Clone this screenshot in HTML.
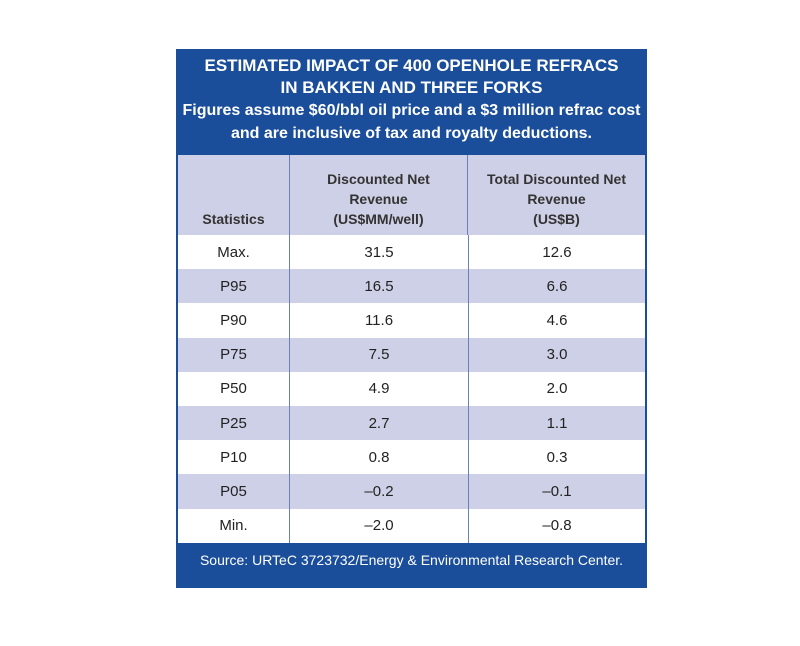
<!DOCTYPE html>
<html><head><meta charset="utf-8"><style>
body{margin:0;width:800px;height:646px;background:#fff;font-family:"Liberation Sans Narrow","Liberation Sans",sans-serif;position:relative;overflow:hidden}
#box{position:absolute;left:176px;top:49px;width:471px;height:539px;background:#1a4e9a}
#title{position:absolute;left:0;top:6px;width:471px;text-align:center;color:#fff;font-weight:bold;font-size:17px;line-height:22px}
#title .sub{font-size:16px}
#tbl{position:absolute;left:2px;top:106px;width:467px;height:388px;background:#fff}
.row{position:absolute;left:0;width:467px;height:34.2px;display:flex;font-size:15px;color:#222;align-items:center}
.c{text-align:center}
.c1{width:111px}.c2{width:178px;border-left:1.5px solid #6d7fb5;height:100%;display:flex;align-items:center;justify-content:center}.c3{flex:1;border-left:1.5px solid #6d7fb5;height:100%;display:flex;align-items:center;justify-content:center}
.alt{background:#cdd0e6}
#hdr{position:absolute;left:0;top:0;width:467px;height:80px;background:#cdd0e6;display:flex;font-weight:bold;font-size:14px;color:#333;line-height:20px}
#hdr>div{display:flex;align-items:flex-end;justify-content:center;padding-bottom:6px;box-sizing:border-box;height:100%;text-align:center}
#src{position:absolute;left:0;top:503px;width:471px;text-align:center;color:#fff;font-size:14px;font-family:"Liberation Sans",sans-serif}
</style></head><body>
<div id="box">
<div id="title">ESTIMATED IMPACT OF 400 OPENHOLE REFRACS<br>IN BAKKEN AND THREE FORKS<br><span class="sub">Figures assume $60/bbl oil price and a $3 million refrac cost<br>and are inclusive of tax and royalty deductions.</span></div>
<div id="tbl">
<div id="hdr">
<div class="c1">Statistics</div>
<div class="c2" style="align-items:flex-end">Discounted Net<br>Revenue<br>(US$MM/well)</div>
<div class="c3" style="align-items:flex-end">Total Discounted Net<br>Revenue<br>(US$B)</div>
</div>
<div id="rows"></div>
</div>
<div id="src">Source: URTeC 3723732/Energy &amp; Environmental Research Center.</div>
</div>
<script>
const stats=["Max.","P95","P90","P75","P50","P25","P10","P05","Min."];
const perWell=["31.5","16.5","11.6","7.5","4.9","2.7","0.8","\u20130.2","\u20132.0"];
const total=["12.6","6.6","4.6","3.0","2.0","1.1","0.3","\u20130.1","\u20130.8"];
const rows=document.getElementById('rows');
stats.forEach((s,i)=>{
const r=document.createElement('div');
r.className='row'+(i%2?' alt':'');
r.style.top=(80+i*34.2)+'px';


r.innerHTML='<div class="c c1">'+s+'</div><div class="c2">'+perWell[i]+'</div><div class="c3">'+total[i]+'</div>';
rows.appendChild(r);
});
</script>
</body></html>
